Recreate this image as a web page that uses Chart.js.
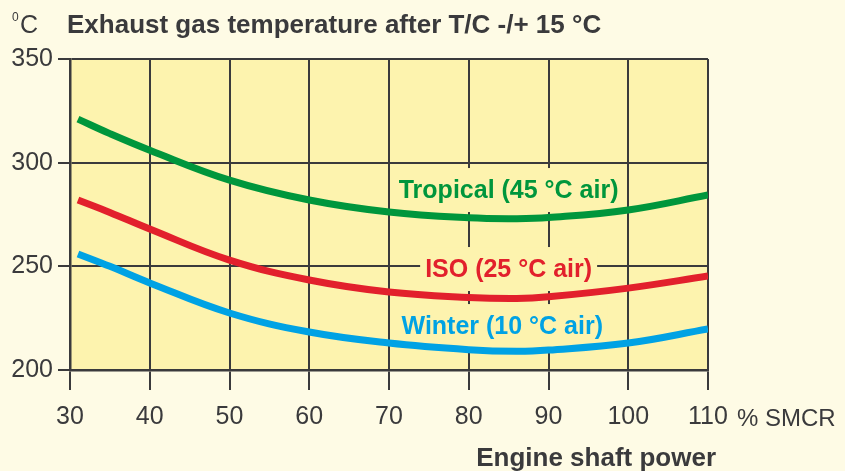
<!DOCTYPE html>
<html>
<head>
<meta charset="utf-8">
<script src="https://cdn.jsdelivr.net/npm/chart.js@4/dist/chart.umd.min.js"></script>
<style>
  html, body { margin: 0; padding: 0; background: #fefbe5; }
  #wrap { width: 845px; height: 471px; }
</style>
</head>
<body>
<div id="wrap"><canvas id="c" width="845" height="471"></canvas></div>
<script>
// engine load, % SMCR
const loads = [31, 35, 40, 50, 60, 70, 80, 86, 90, 100, 110]
// exhaust gas temperature, °C
const tropical = [321, 314, 306, 291.6, 282, 276.2, 273.4, 273, 273.5, 277.2, 284.4]
const iso = [282, 276, 268, 253, 243.4, 237.6, 235, 234.5, 235.3, 239.5, 245.3]
const winter = [256, 250, 242, 227.5, 218.3, 213, 209.8, 209, 209.6, 213, 219.8]

const xTicks = [30, 40, 50, 60, 70, 80, 90, 100, 110]
const yTicks = [200, 250, 300, 350]

const FONT = '"Liberation Sans", Arial, sans-serif'
const INK = '#3a3a3c'
const PLOT_BG = '#fdf3ae'

const toPoints = (vals) => vals.map((v, i) => ({ x: loads[i], y: v }))

// curve labels, placed in data units
const curveLabels = [
  { text: 'Tropical (45 °C air)', x: 85, y: 286.8, color: '#00963c' },
  { text: 'ISO (25 °C air)', x: 85, y: 248.7, color: '#e2202c' },
  { text: 'Winter (10 °C air)', x: 84.2, y: 221.2, color: '#00a2e4' },
]

const labelBox = (chart, l) => {
  const px = chart.scales.x.getPixelForValue(l.x)
  const py = chart.scales.y.getPixelForValue(l.y)
  return { px, py }
}

const decor = {
  id: 'decor',
  beforeDraw: (chart) => {
    const { ctx, chartArea: a } = chart
    ctx.save()
    ctx.fillStyle = '#fefbe5'
    ctx.fillRect(0, 0, chart.width, chart.height)
    ctx.fillStyle = PLOT_BG
    ctx.fillRect(a.left, a.top, a.right - a.left, a.bottom - a.top)
    ctx.restore()
  },
  // blank the grid behind the curve labels
  beforeDatasetsDraw: (chart) => {
    const { ctx } = chart
    ctx.save()
    ctx.font = 'bold 25px ' + FONT
    ctx.fillStyle = PLOT_BG
    curveLabels.forEach((l) => {
      const { px, py } = labelBox(chart, l)
      const w = ctx.measureText(l.text).width
      ctx.fillRect(px - w / 2 - 5, py - 22, w + 10, 44)
    })
    ctx.restore()
  },
  afterDatasetsDraw: (chart) => {
    const { ctx } = chart
    ctx.save()
    ctx.font = 'bold 25px ' + FONT
    ctx.textAlign = 'center'
    ctx.textBaseline = 'middle'
    curveLabels.forEach((l) => {
      const { px, py } = labelBox(chart, l)
      ctx.fillStyle = l.color
      ctx.fillText(l.text, px, py + 1)
    })

    // title and unit
    ctx.fillStyle = INK
    ctx.textAlign = 'left'
    ctx.textBaseline = 'alphabetic'
    ctx.font = '12px ' + FONT
    ctx.fillText('0', 12, 21)
    ctx.font = '25px ' + FONT
    ctx.fillText('C', 20, 33)
    ctx.font = 'bold 26px ' + FONT
    ctx.fillText('Exhaust gas temperature after T/C -/+ 15 °C', 67, 33)

    // x unit and axis name
    ctx.font = '24px ' + FONT
    ctx.fillText('% SMCR', 737, 426)
    ctx.font = 'bold 26px ' + FONT
    ctx.textAlign = 'right'
    ctx.fillText('Engine shaft power', 716, 466)
    ctx.restore()
  },
}

const line = (label, vals, color) => ({
  label,
  data: toPoints(vals),
  borderColor: color,
  borderWidth: 7,
  pointRadius: 0,
  fill: false,
  tension: 0.4,
})

new Chart(document.getElementById('c'), {
  type: 'line',
  data: {
    datasets: [
      line('Tropical (45 °C air)', tropical, '#00963c'),
      line('ISO (25 °C air)', iso, '#e2202c'),
      line('Winter (10 °C air)', winter, '#00a2e4'),
    ],
  },
  options: {
    responsive: false,
    animation: false,
    layout: { padding: { top: 59, right: 137, left: 0, bottom: 0 } },
    plugins: { legend: { display: false }, tooltip: { enabled: false } },
    scales: {
      x: {
        type: 'linear',
        min: 30,
        max: 110,
        afterBuildTicks: (s) => { s.ticks = xTicks.map((v) => ({ value: v })) },
        afterFit: (s) => { s.height = 101 },
        grid: { color: INK, lineWidth: 2, tickLength: 20, tickColor: INK },
        border: { color: INK, width: 2.5 },
        ticks: { color: INK, font: { family: FONT, size: 25 }, padding: 12, maxRotation: 0 },
      },
      y: {
        min: 200,
        max: 350,
        afterBuildTicks: (s) => { s.ticks = yTicks.map((v) => ({ value: v })) },
        afterFit: (s) => { s.width = 70 },
        grid: { color: INK, lineWidth: 2, tickLength: 12, tickColor: INK },
        border: { color: INK, width: 2.5 },
        ticks: { color: INK, font: { family: FONT, size: 25 }, padding: 5 },
      },
    },
  },
  plugins: [decor],
})
</script>
</body>
</html>
